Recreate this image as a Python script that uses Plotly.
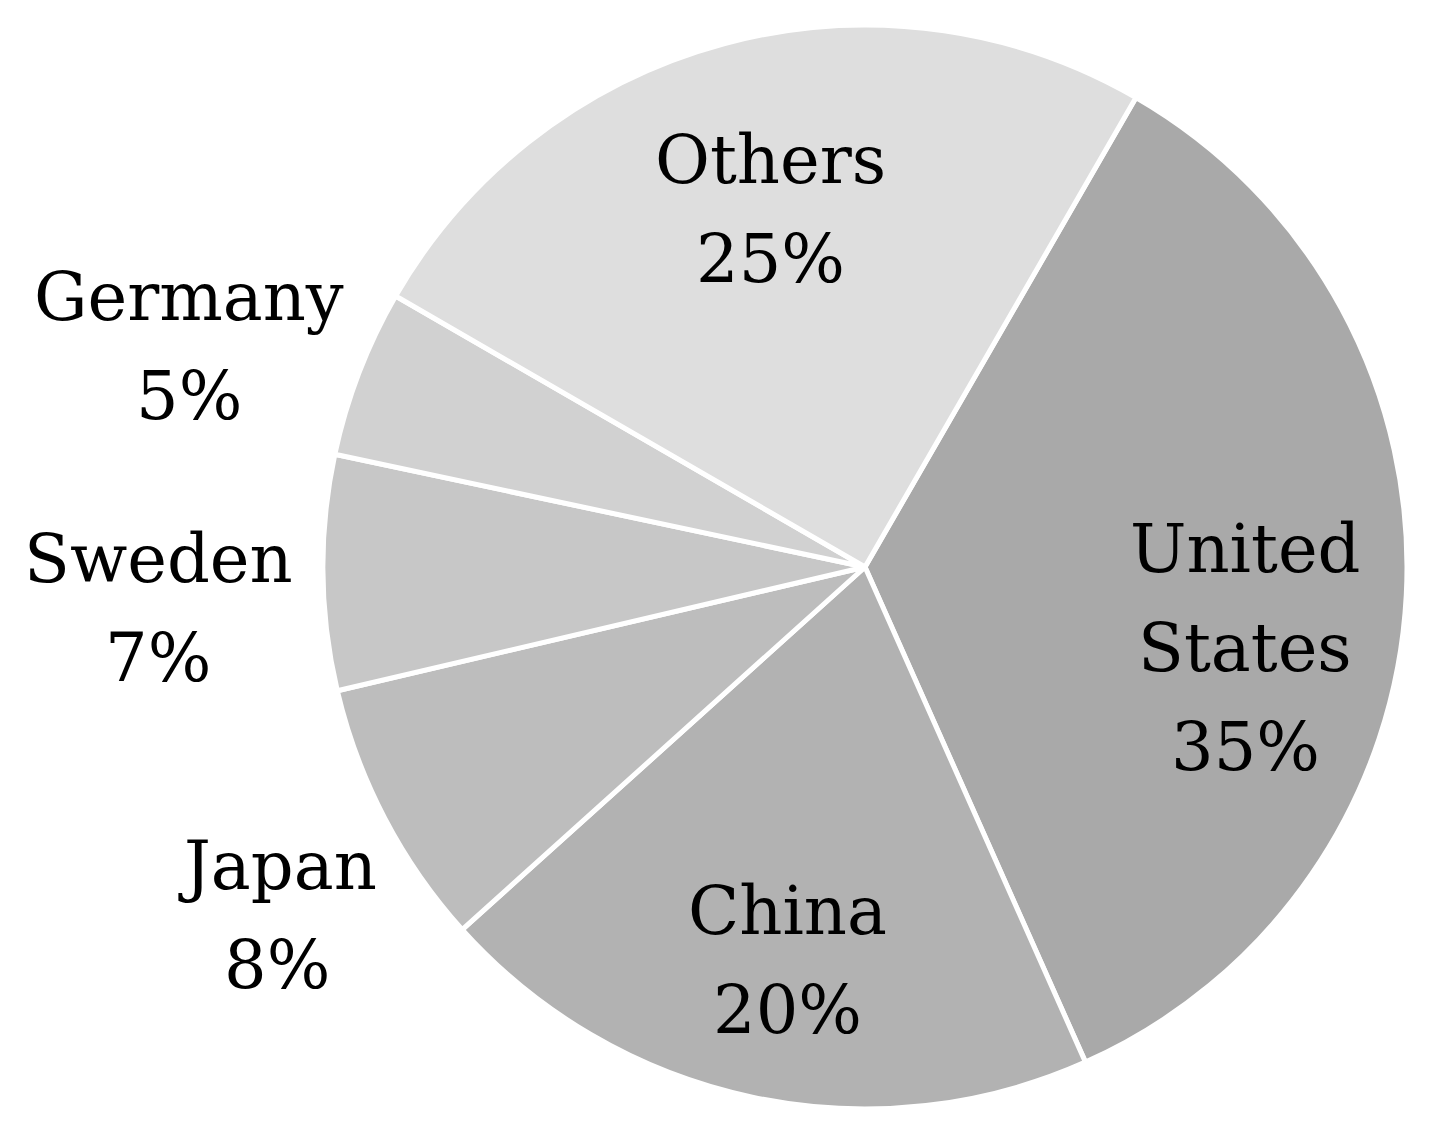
import plotly.graph_objects as go

# share of total by country (%)
countries = ["United States", "China", "Japan", "Sweden", "Germany", "Others"]
shares = [35, 20, 8, 7, 5, 25]
colors = ["#a9a9a9", "#b2b2b2", "#bdbdbd", "#c7c7c7", "#d1d1d1", "#dedede"]

W, H = 1436, 1132
cx, cy, r = 857, 559, 542   # pie centre / radius in pixels (domain box)

# label block centres (pixels) and the line breaks used in the picture
label_pos = {
    "United States": (1237, 640),
    "China": (779, 952),
    "Japan": (269, 907),
    "Sweden": (150, 600),
    "Germany": (181, 338),
    "Others": (762, 201),
}
label_lines = {"United States": ["United", "States"]}
line_gap = 99

fig = go.Figure()
fig.add_trace(go.Pie(
    labels=countries,
    values=shares,
    sort=False,
    direction="clockwise",
    rotation=30,
    textinfo="none",
    hoverinfo="label+percent",
    marker=dict(colors=colors, line=dict(color="white", width=5)),
    domain=dict(x=[(cx - r) / W, (cx + r) / W], y=[(H - cy - r) / H, (H - cy + r) / H]),
    showlegend=False,
))

# labels: name line(s) + percentage, stacked around block centre
for name, val in zip(countries, shares):
    lines = label_lines.get(name, [name]) + [f"{val}%"]
    px, py = label_pos[name]
    n = len(lines)
    for i, txt in enumerate(lines):
        ly = py + (i - (n - 1) / 2) * line_gap
        fig.add_annotation(
            x=px / W, y=1 - ly / H, xref="paper", yref="paper",
            text=txt, showarrow=False,
            font=dict(family="DejaVu Serif", size=67, color="black"),
            xanchor="center", yanchor="middle",
        )

fig.update_layout(
    width=W, height=H,
    margin=dict(l=0, r=0, t=0, b=0),
    paper_bgcolor="white",
    plot_bgcolor="white",
)

fig.write_html("out.html")
